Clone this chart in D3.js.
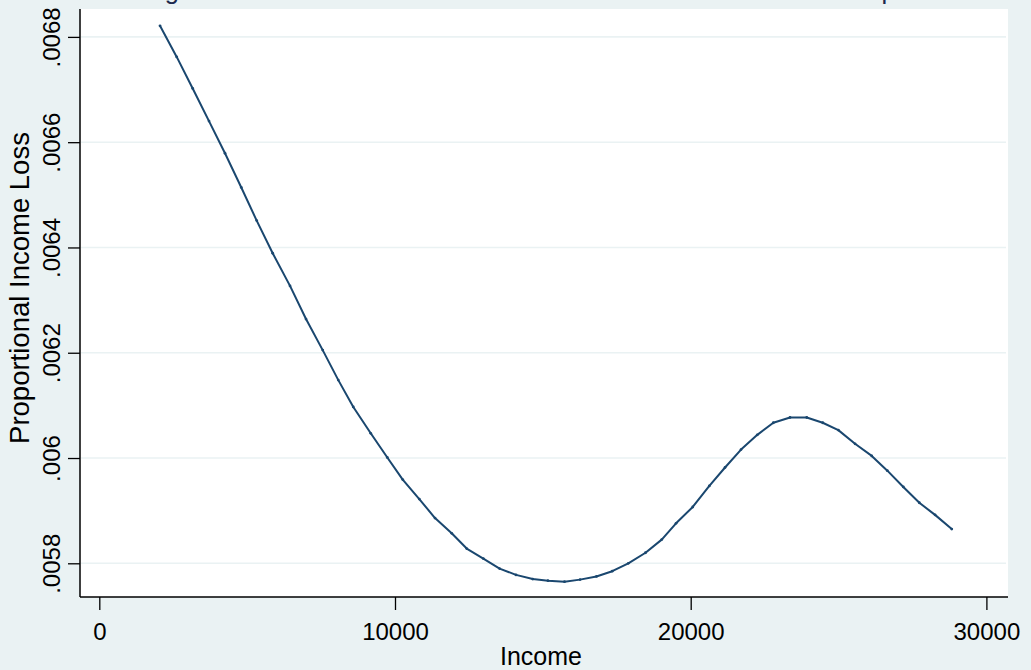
<!DOCTYPE html>
<html>
<head>
<meta charset="utf-8">
<script src="https://cdn.jsdelivr.net/npm/d3@7"></script>
<style>
    body { margin: 0; background: #eaf2f3; }
    text { font-family: "Liberation Sans", Arial, sans-serif; }
</style>
</head>
<body>
<div id="chart"></div>
<script>
// values
var income = [2053, 2618, 3159, 3710, 4251, 4802, 5323, 5864, 6450, 6991,
    7555, 8083, 8590, 9179, 9740, 10261, 10822, 11353, 11918, 12425,
    12987, 13538, 14093, 14658, 15175, 15733, 16257, 16812, 17346, 17891,
    18472, 19020, 19504, 20069, 20630, 21161, 21702, 22253, 22795, 23359,
    23924, 24465, 24993, 25558, 26123, 26650, 27191, 27732, 28263, 28828];
var loss = [0.006821, 0.006762, 0.006702, 0.006640, 0.006579, 0.006514, 0.006451, 0.006389, 0.006327, 0.006264,
    0.006205, 0.006148, 0.006097, 0.006047, 0.006001, 0.005959, 0.005922, 0.005886, 0.005857, 0.005828,
    0.005809, 0.005790, 0.005778, 0.005770, 0.005767, 0.005765, 0.005769, 0.005775, 0.005785, 0.005800,
    0.005820, 0.005845, 0.005876, 0.005907, 0.005947, 0.005982, 0.006016, 0.006044, 0.006067, 0.006077,
    0.006077, 0.006067, 0.006053, 0.006027, 0.006004, 0.005976, 0.005945, 0.005915, 0.005892, 0.005865];
var xTicks = [0, 10000, 20000, 30000];
var yTicks = [0.0058, 0.006, 0.0062, 0.0064, 0.0066, 0.0068];
var yTickLabels = [".0058", ".006", ".0062", ".0064", ".0066", ".0068"];
var titleText = "Figure 2: Lowess Smooth of Income Loss on Income \u2013 Total Sample";

var width = 1031, height = 670;
var plot = {left: 80, top: 9, right: 1008, bottom: 597};
var lineColor = "#1a476f";
var gridColor = "#eaf2f3";

var svg = d3.select("#chart").append("svg")
    .attr("width", width)
    .attr("height", height);

svg.append("rect")
    .attr("width", width)
    .attr("height", height)
    .attr("fill", "#eaf2f3");

svg.append("rect")
    .attr("x", plot.left)
    .attr("y", plot.top)
    .attr("width", plot.right - plot.left)
    .attr("height", plot.bottom - plot.top)
    .attr("fill", "#ffffff");

var x = d3.scaleLinear().domain([0, 30000]).range([99.3, 986.4]);
var y = d3.scaleLinear().domain([0.0058, 0.0068]).range([563.3, 36.9]);

// grid lines
svg.append("g")
    .selectAll("line")
    .data(yTicks)
    .enter()
    .append("line")
    .attr("x1", plot.left + 1)
    .attr("x2", plot.right - 2)
    .attr("y1", function (d) { return y(d); })
    .attr("y2", function (d) { return y(d); })
    .attr("stroke", gridColor)
    .attr("stroke-width", 1.6);

// y axis
var yAxis = d3.axisLeft(y)
    .tickValues(yTicks)
    .tickSize(12)
    .tickFormat(function (d, i) { return yTickLabels[i]; });

var gy = svg.append("g")
    .attr("transform", "translate(" + plot.left + ",0)")
    .call(yAxis);
gy.select(".domain").remove();
gy.selectAll(".tick line").attr("stroke", "#000").attr("stroke-width", 1.3);
gy.selectAll(".tick text")
    .attr("x", null).attr("dy", null)
    .attr("transform", "translate(-20,0) rotate(-90)")
    .style("text-anchor", "middle")
    .style("font-size", "24px")
    .attr("fill", "#000");
gy.append("line")
    .attr("x1", 0).attr("x2", 0)
    .attr("y1", plot.top).attr("y2", plot.bottom)
    .attr("stroke", "#000").attr("stroke-width", 1.5);

// x axis
var xAxis = d3.axisBottom(x)
    .tickValues(xTicks)
    .tickSize(13)
    .tickFormat(d3.format("d"));

var gx = svg.append("g")
    .attr("transform", "translate(0," + plot.bottom + ")")
    .call(xAxis);
gx.select(".domain").remove();
gx.selectAll(".tick line").attr("stroke", "#000").attr("stroke-width", 1.3);
gx.selectAll(".tick text")
    .attr("y", 43).attr("dy", null)
    .style("font-size", "24px")
    .attr("fill", "#000");
gx.append("line")
    .attr("x1", plot.left).attr("x2", plot.right)
    .attr("y1", 0).attr("y2", 0)
    .attr("stroke", "#000").attr("stroke-width", 1.5);

// axis titles
svg.append("text")
    .attr("x", 541)
    .attr("y", 665)
    .style("text-anchor", "middle")
    .style("font-size", "25px")
    .text("Income");

svg.append("text")
    .attr("transform", "translate(29,288) rotate(-90)")
    .style("text-anchor", "middle")
    .style("font-size", "27.5px")
    .text("Proportional Income Loss");

// the line
var pts = income.map(function (d, i) { return [d, loss[i]]; });

svg.append("path")
    .datum(pts)
    .attr("fill", "none")
    .attr("stroke", lineColor)
    .attr("stroke-width", 2)
    .attr("stroke-linejoin", "round")
    .attr("d", d3.line()
        .x(function (d) { return x(d[0]); })
        .y(function (d) { return y(d[1]); }));

svg.append("g")
    .selectAll("circle")
    .data(pts)
    .enter()
    .append("circle")
    .attr("cx", function (d) { return x(d[0]); })
    .attr("cy", function (d) { return y(d[1]); })
    .attr("r", 1.4)
    .attr("fill", lineColor);

// title, mostly above the top edge (only descenders show)
var title = svg.append("text")
    .attr("x", 0)
    .attr("y", -1.5)
    .style("font-size", "26px")
    .attr("fill", "#1c2a4e")
    .text(titleText);

// fit the title so the 'g' and the 'p' land where they are in the reference
var node = title.node();
var ig = titleText.indexOf("g"), ip = titleText.lastIndexOf("p");
var gx0 = node.getStartPositionOfChar(ig).x, px0 = node.getStartPositionOfChar(ip).x;
var fs = 26 * (885 - 168) / (px0 - gx0);
title.style("font-size", fs + "px");
gx0 = node.getStartPositionOfChar(ig).x;
title.attr("x", 166 - gx0 - 0.05 * fs);
</script>
</body>
</html>
